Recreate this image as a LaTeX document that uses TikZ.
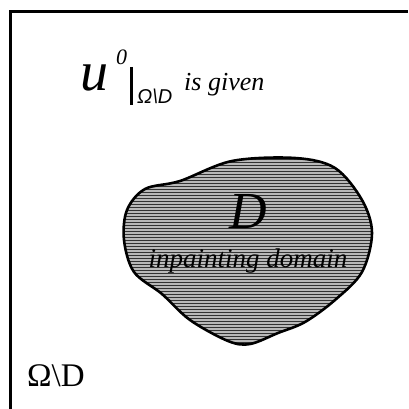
\documentclass[tikz,border=0pt]{standalone}
\usepackage{fontspec}
\setmainfont{Liberation Serif}
\newfontfamily\subfont{Liberation Sans}
\usetikzlibrary{patterns}

\tikzset{
  frame/.style={line width=3pt},
  blob/.style={line width=2.6pt,line join=round,
    preaction={fill=gray!55},pattern=horizontal lines,pattern color=black!80},
  lbl/.style={inner sep=0pt,anchor=base west}
}

\begin{document}
\begin{tikzpicture}[x=1pt,y=-1pt]
  \useasboundingbox (0,0) rectangle (408,409);
  \fill[white] (0,0) rectangle (408,409);

  % outer domain, cut off at right and bottom
  \draw[frame] (10.5,409) -- (10.5,12) -- (408,12);

  % inpainting domain
  \draw[blob] plot[smooth cycle,tension=0.55] coordinates {
    (295,158) (335,168) (362,200) (372,233) (362,272) (335,300)
    (305,322) (278,333) (250,344) (228,341) (190,320) (162,294)
    (134,272) (124,240) (127,210) (145,189) (180,181) (232,161)};

  % labels
  \node[lbl,font=\fontsize{56}{56}\selectfont\itshape] (u) at (80,91) {u};
  \node[lbl,font=\fontsize{22}{22}\selectfont\itshape] (sup) at (116,65) {0};
  \coordinate (bartop) at (131.5,67);
  \coordinate (barbot) at (131.5,105);
  \draw[line width=2.2pt] (bartop) -- (barbot);
  \node[lbl,font=\fontsize{20}{20}\subfont\itshape] (sub) at (137,103) {Ω\textbackslash D};
  \node[lbl,font=\fontsize{26}{26}\selectfont\itshape] (given) at (184,91) {is given};

  \node[font=\fontsize{52}{52}\selectfont\itshape] (D) at (248,212) {D};
  \node[font=\fontsize{27}{27}\selectfont\itshape] (dom) at (248,261) {inpainting domain};

  \node[lbl,font=\fontsize{33}{33}\selectfont] (rest) at (27,386) {Ω\textbackslash D};
\end{tikzpicture}
\end{document}
